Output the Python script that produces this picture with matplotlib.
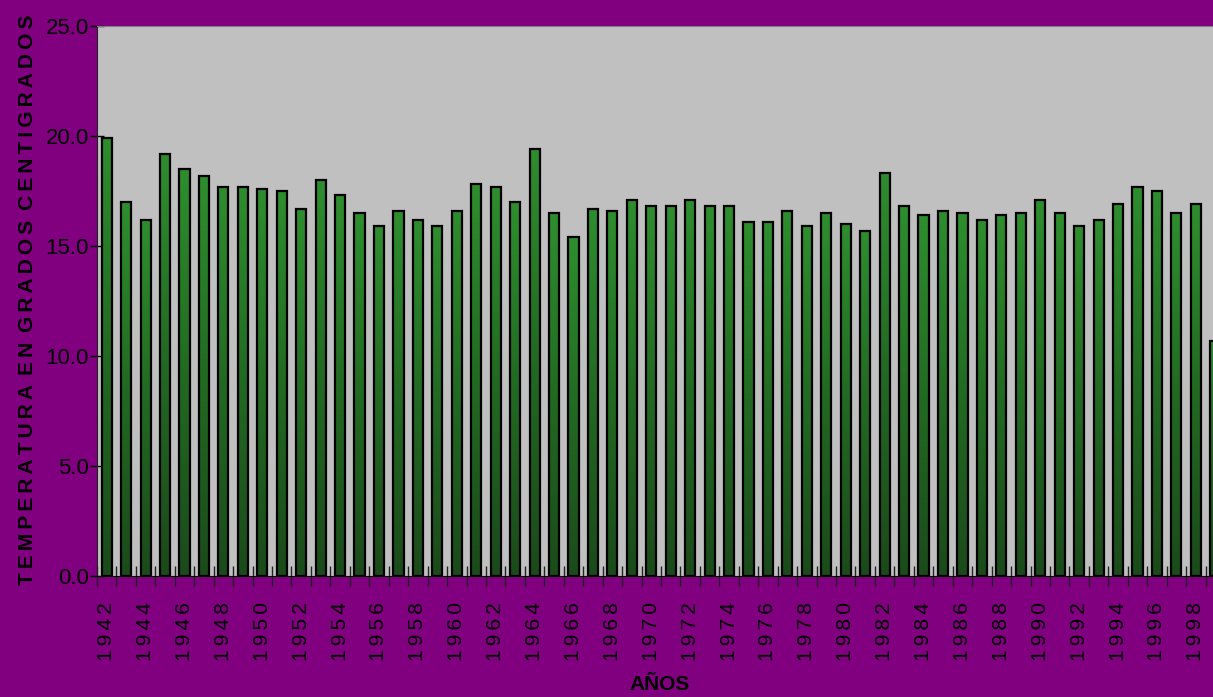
import numpy as np
import matplotlib.pyplot as plt
from matplotlib.colors import LinearSegmentedColormap

years = list(range(1942, 2000))
temps = [19.9, 17.0, 16.2, 19.2, 18.5, 18.2, 17.7, 17.7, 17.6, 17.5,
         16.7, 18.0, 17.3, 16.5, 15.9, 16.6, 16.2, 15.9, 16.6, 17.8,
         17.7, 17.0, 19.4, 16.5, 15.4, 16.7, 16.6, 17.1, 16.8, 16.8,
         17.1, 16.8, 16.8, 16.1, 16.1, 16.6, 15.9, 16.5, 16.0, 15.7,
         18.3, 16.8, 16.4, 16.6, 16.5, 16.2, 16.4, 16.5, 17.1, 16.5,
         15.9, 16.2, 16.9, 17.7, 17.5, 16.5, 16.9, 10.7]
label_years = list(range(1942, 1999, 2))

font = ['Liberation Sans', 'DejaVu Sans']
purple = '#800080'

fig = plt.figure(figsize=(12.13, 6.97), dpi=100, facecolor=purple)
ax = fig.add_axes([97 / 1213, 121 / 697, 1128 / 1213, 550 / 697])
ax.set_facecolor('#c0c0c0')

width = 0.52
bars = ax.bar(years, temps, width=width, facecolor='none',
              edgecolor='black', linewidth=1.6, zorder=3)

# vertical gradient fill for each bar
cmap = LinearSegmentedColormap.from_list('g', ['#1b4a1b', '#226a22', '#2e8e2e'])
grad = np.linspace(0, 1, 256).reshape(-1, 1)
for b in bars:
    x0 = b.get_x()
    h = b.get_height()
    im = ax.imshow(grad, cmap=cmap, origin='lower', aspect='auto',
                   extent=(x0, x0 + width, 0, h), zorder=2)
    im.set_clip_path(b)

ax.set_xlim(1941.5, 1999.5)
ax.set_ylim(0, 25)

ax.set_yticks(np.arange(0, 26, 5))
ax.set_yticklabels([f'{v:.1f}' for v in np.arange(0, 26, 5)],
                   fontsize=16, family=font)
ax.tick_params(axis='y', direction='inout', length=10, width=1, pad=1,
               colors='black')

ax.set_xticks(np.arange(1941.5, 2000, 1))
ax.set_xticklabels([])
ax.tick_params(axis='x', which='major', direction='inout', length=14,
               width=1, color='#222222')
ax.set_xticks(label_years, minor=True)
ax.set_xticklabels(['\u2009'.join(str(y)) for y in label_years], minor=True,
                   rotation=90, fontsize=15, family=font)
ax.tick_params(axis='x', which='minor', length=0, pad=19)

ax.spines['right'].set_visible(False)
ax.spines['top'].set_color('#808080')
ax.spines['left'].set_color('#222222')
ax.spines['bottom'].set_color('black')

fig.text(660 / 1213, 1 - 685 / 697, 'AÑOS', fontsize=15, fontweight='bold',
         family=font, ha='center', va='center')
fig.text(28 / 1213, 1 - 300 / 697,
         ' \u2009'.join('\u2009'.join(w) for w in 'TEMPERATURA EN GRADOS CENTIGRADOS'.split()),
         fontsize=15, fontweight='bold', family=font, rotation=90,
         ha='center', va='center')

fig.savefig('out.png', dpi=100, facecolor=purple)
